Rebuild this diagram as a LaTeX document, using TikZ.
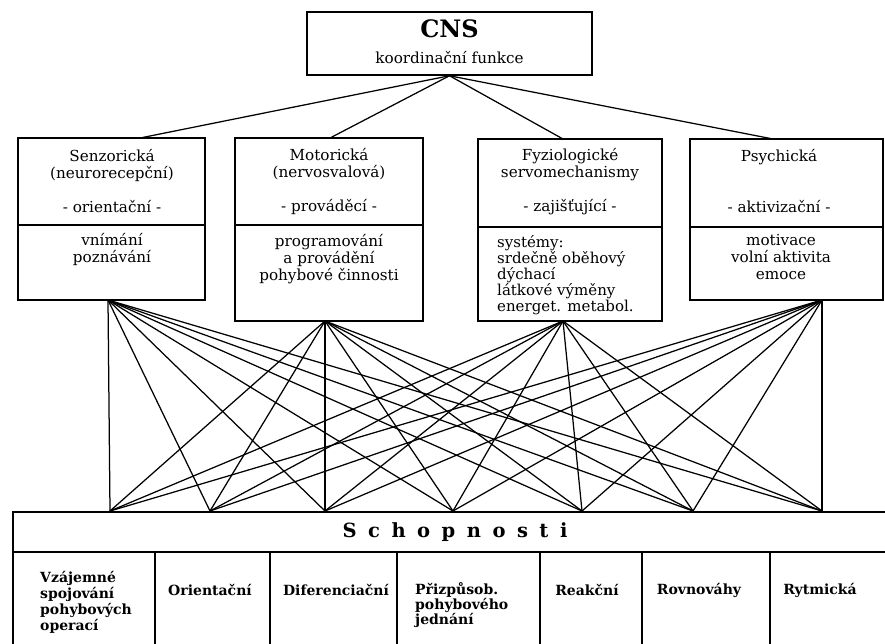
\documentclass[tikz,border=0pt]{standalone}
\usepackage{fontspec}
\setmainfont{DejaVu Serif}
\begin{document}
\begin{tikzpicture}[x=1pt,y=-1pt,
  box/.style={draw,line width=1.5pt,shape=rectangle,inner sep=0pt},
  divline/.style={line width=1.5pt},
  link/.style={line width=1.25pt},
  txt/.style={font=\fontsize{15.2}{17}\selectfont,align=center,inner sep=0pt},
  lst/.style={font=\fontsize{15}{16}\selectfont,align=left,inner sep=0pt,anchor=west},
  coltxt/.style={font=\bfseries\fontsize{14}{16}\selectfont,align=left,inner sep=0pt}]
\useasboundingbox (0,0) rectangle (885,643);
\clip (0,0) rectangle (885,643);
\fill[white] (0,0) rectangle (885,643);

% CNS
\node[box,minimum width=285pt,minimum height=63pt] (cns) at (449.5,43.5) {};
\node[txt,font=\bfseries\fontsize{24}{26}\selectfont] (cnst) at (449.5,29) {CNS};
\node[txt] (cnsf) at (449.5,58) {koordinační funkce};

% upper boxes
\node[box,minimum width=187pt,minimum height=162pt] (b1) at (111.5,219) {};
\node[box,minimum width=188pt,minimum height=183pt] (b2) at (329,229.5) {};
\node[box,minimum width=184pt,minimum height=182pt] (b3) at (570,230) {};
\node[box,minimum width=193pt,minimum height=161pt] (b4) at (786.5,219.5) {};
\draw[divline] (b1.west |- 0,225) -- (b1.east |- 0,225);
\draw[divline] (b2.west |- 0,225) -- (b2.east |- 0,225);
\draw[divline] (b3.west |- 0,227) -- (b3.east |- 0,227);
\draw[divline] (b4.west |- 0,227) -- (b4.east |- 0,227);

\node[txt] (b1a) at (112,181.5) {Senzorická\\(neurorecepční)\\[17pt]- orientační -};
\node[txt] (b2a) at (329,181.5) {Motorická\\(nervosvalová)\\[17pt]- prováděcí -};
\node[txt] (b3a) at (570,181.5) {Fyziologické\\servomechanismy\\[17pt]- zajišťující -};
\node[txt] (b4a) at (779,181.5) {Psychická\\[34pt]- aktivizační -};

\node[txt] (b1b) at (112,249.5) {vnímání\\poznávání};
\node[txt] (b2b) at (329,259.5) {programování\\a provádění\\pohybové činnosti};
\node[lst] (b3b) at (497,275) {systémy:\\srdečně oběhový\\dýchací\\látkové výměny\\energet. metabol.};
\node[txt] (b4b) at (781,257.5) {motivace\\volní aktivita\\emoce};

% bottom box
\node[box,minimum width=900pt,minimum height=200pt,anchor=north west] (sch) at (12,511) {};
\draw[divline] (sch.west |- 0,552) -- (sch.east |- 0,552);
\foreach \cx in {155,270,397,540,642,770}
  \draw[divline] (\cx,552) -- (\cx,660);
\node[inner sep=0pt,font=\bfseries\fontsize{19.5}{22}\selectfont] (scht) at (455,532) {\spaceskip=11.5pt S c h o p n o s t i};

\node[coltxt,anchor=north west] (c1) at (40,571) {Vzájemné\\spojování\\pohybových\\operací};
\node[coltxt] (c2) at (210,590) {Orientační};
\node[coltxt] (c3) at (336,590) {Diferenciační};
\node[coltxt,anchor=north west,font=\bfseries\fontsize{14}{15}\selectfont] (c4) at (415,582) {Přizpůsob.\\pohybového\\jednání};
\node[coltxt] (c5) at (587,590) {Reakční};
\node[coltxt] (c6) at (699,590) {Rovnováhy};
\node[coltxt] (c7) at (820,590) {Rytmická};

% connector points
\coordinate (t1) at (140,138);
\coordinate (t2) at (330,138);
\coordinate (t3) at (563,139);
\coordinate (t4) at (773,139);
\coordinate (f1) at (108,300);
\coordinate (f2) at (325,321);
\coordinate (f3) at (563,321);
\coordinate (f4) at (822,300);
\coordinate (s1) at (110,511);
\coordinate (s2) at (210,511);
\coordinate (s3) at (325,511);
\coordinate (s4) at (453,511);
\coordinate (s5) at (582,511);
\coordinate (s6) at (693,511);
\coordinate (s7) at (822,511);

\foreach \t in {t1,t2,t3,t4}
  \draw[link] (cns.south) -- (\t);
\foreach \f in {f1,f2,f3,f4}
  \foreach \s in {1,...,7}
    \draw[link] (\f) -- (s\s);
\end{tikzpicture}
\end{document}
